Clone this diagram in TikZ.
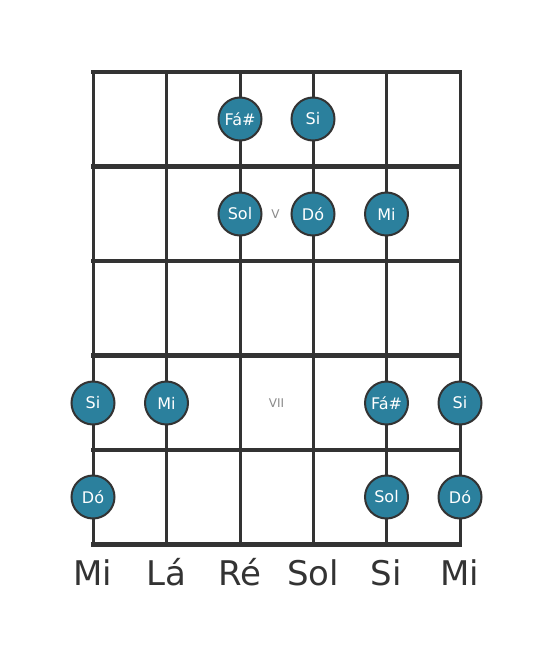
\documentclass[tikz,border=0pt]{standalone}
\usepackage{fontspec}
\setmainfont{DejaVu Sans}
\usepackage{tikz}
\definecolor{boardgray}{HTML}{333333}
\definecolor{noteteal}{HTML}{2B809D}
\definecolor{markgray}{HTML}{8A8A8A}
\tikzset{
  note/.style={circle, draw=boardgray, line width=2pt, fill=noteteal, minimum size=43pt,
    inner sep=0pt, text=white, font=\fontsize{16}{16}\selectfont},
  fretmark/.style={text=markgray, font=\fontsize{12}{12}\selectfont},
  openstring/.style={anchor=base, text=boardgray, font=\fontsize{34}{34}\selectfont}
}

\begin{document}
\begin{tikzpicture}[x=1pt, y=-1pt, line width=3pt, draw=boardgray]
    \useasboundingbox (0, 0) rectangle (553, 656);

    % draw strings
    \foreach \sx [count=\i] in {93, 166.5, 240, 313, 386.5, 460} {
        \coordinate (s\i) at (\sx, 72);
        \draw[boardgray] (\sx, 72) -- (\sx, 544.5);
    }

    % draw frets
    \foreach \fy in {72, 166.5, 261, 355.5, 450, 544.5} {
        \draw[boardgray, line width=4.5pt, line cap=rect] (93, \fy) -- (460, \fy);
    }

    % draw position marks
    \node[fretmark] (markV) at (275.5, 214) {V};
    \node[fretmark] (markVII) at (276.5, 403) {VII};

    % draw notes
    \node[note] (fa1) at (240, 119) {Fá\#};
    \node[note] (si1) at (313, 119) {Si};

    \node[note] (sol2) at (240, 214) {Sol};
    \node[note] (do2) at (313, 214) {Dó};
    \node[note] (mi2) at (386.5, 214) {Mi};

    \node[note] (si4) at (93, 403) {Si};
    \node[note] (mi4) at (166.5, 403) {Mi};
    \node[note] (fa4) at (386.5, 403) {Fá\#};
    \node[note] (sib4) at (460, 403) {Si};

    \node[note] (do5) at (93, 497) {Dó};
    \node[note] (sol5) at (386.5, 497) {Sol};
    \node[note] (dob5) at (460, 497) {Dó};

    % draw open strings
    \node[openstring] (open1) at (93, 585) {Mi};
    \node[openstring] (open2) at (166.5, 585) {Lá};
    \node[openstring] (open3) at (240, 585) {Ré};
    \node[openstring] (open4) at (313, 585) {Sol};
    \node[openstring] (open5) at (386.5, 585) {Si};
    \node[openstring] (open6) at (460, 585) {Mi};
\end{tikzpicture}
\end{document}
